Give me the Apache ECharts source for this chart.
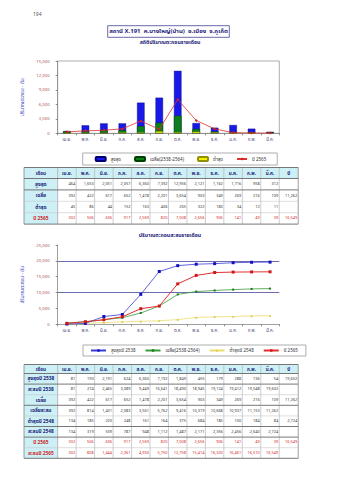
<!DOCTYPE html>
<html><head><meta charset="utf-8">
<script src="https://cdn.jsdelivr.net/npm/echarts@6/dist/echarts.min.js"></script>
<style>html,body{margin:0;padding:0;background:#fff}#c{width:339px;height:480px}</style>
</head><body><div id="c"></div>
<script>
// ---- data ----
const months = ['เม.ย.','พ.ค.','มิ.ย.','ก.ค.','ส.ค.','ก.ย.','ต.ค.','พ.ย.','ธ.ค.','ม.ค.','ก.พ.','มี.ค.'];
const yTicksBar = [0, 3000, 6000, 9000, 12000, 15000];
const yTicksLine = [0, 5000, 10000, 15000, 20000, 25000];
const maxMonthly = [464,1653,2051,2057,6360,7392,12956,2121,1162,1716,958,312];
const avgMonthly = [392,422,617,652,1478,2201,3654,903,349,269,216,109];
const minMonthly = [45,86,44,152,163,406,205,322,183,34,12,11];
const y2565 = [302,506,636,917,2569,820,7008,2656,906,141,49,39];
const max2538 = [81,193,2191,624,6360,7192,1849,455,179,288,136,54];
const cum2538 = [81,274,2465,3089,9449,16641,18490,18945,19124,19412,19548,19602];
const avgCum = [392,814,1431,2083,3561,5762,9416,10319,10668,10937,11153,11262];
const min2548 = [134,185,220,248,161,164,375,684,185,100,184,84];
const cum2548 = [134,319,539,787,948,1112,1487,2171,2356,2456,2640,2724];
const cum2565 = [302,808,1444,2361,4930,5750,12758,15414,16320,16461,16510,16549];
const totals = {max2538:'19,602', avg:'11,262', min2548:'2,724', y2565:'16,549'};

const FONT = "'Noto Sans Thai','Noto Serif Thai','Loma','Garuda','Kinnari','Norasi','Tlwg Typo','DejaVu Sans',sans-serif";
const fmt = v => typeof v === 'string' ? v : v.toLocaleString('en-US');

// ---- tables as graphic ----
const NAVY = '#1c1c78', RED = '#d02828', CYAN = '#cdeff6';
function table(x0, y0, headH, rowH, rows, redRows, thick) {
  const firstW = 33.7, colW = 18.46, lastW = 19;
  const widths = [firstW].concat(Array(12).fill(colW)).concat([lastW]);
  const xs = [x0]; widths.forEach(w => xs.push(xs[xs.length-1] + w));
  const totalW = xs[xs.length-1] - x0;
  const H = headH + rowH * rows.length;
  const els = [];
  els.push({type:'rect', shape:{x:x0, y:y0, width:totalW, height:headH}, style:{fill:CYAN}});
  els.push({type:'rect', shape:{x:x0, y:y0+headH, width:firstW, height:H-headH}, style:{fill:CYAN}});
  xs.forEach((x,i) => els.push({type:'line', shape:{x1:x, y1:y0, x2:x, y2:y0+H}, style:{stroke: (i===0||i===xs.length-1)?'#777':'#b8b8b8', lineWidth: (i===1)?1:0.7}}));
  const ys = [y0, y0+headH];
  rows.forEach((r,i) => ys.push(y0+headH+rowH*(i+1)));
  ys.forEach((y,i) => {
    const strong = i<=1 || i===ys.length-1 || thick.includes(i-1);
    els.push({type:'line', shape:{x1:x0, y1:y, x2:x0+totalW, y2:y}, style:{stroke: strong?'#777':'#c8c8c8', lineWidth: strong?1:0.6}});
  });
  const head = ['เดือน'].concat(months).concat(['ปี']);
  head.forEach((t,i) => els.push({type:'text', x:(xs[i]+xs[i+1])/2, y:y0+headH/2,
    style:{text:t, fill:NAVY, fontSize:4.6, fontWeight:'bold', fontFamily:FONT, textAlign:'center', textVerticalAlign:'middle', align:'center', verticalAlign:'middle'}}));
  rows.forEach((r,ri) => {
    const yc = y0 + headH + rowH*ri + rowH/2;
    const red = redRows.includes(ri);
    r.forEach((t,ci) => {
      if (ci === 0) {
        els.push({type:'text', x:(xs[0]+xs[1])/2, y:yc,
          style:{text:t, fill: red?RED:NAVY, fontSize:4.8, fontWeight:'bold', fontFamily:FONT, textAlign:'center', textVerticalAlign:'middle', align:'center', verticalAlign:'middle'}});
      } else {
        els.push({type:'text', x:xs[ci+1]-1, y:yc,
          style:{text:fmt(t), fill: red?RED:'#333', fontSize:3.9, fontFamily:FONT, textAlign:'right', textVerticalAlign:'middle', align:'right', verticalAlign:'middle'}});
      }
    });
  });
  return els;
}
const t1rows = [
  ['สูงสุด'].concat(maxMonthly).concat(['']),
  ['เฉลี่ย'].concat(avgMonthly).concat([totals.avg]),
  ['ต่ำสุด'].concat(minMonthly).concat(['']),
  ['ปี 2565'].concat(y2565).concat([totals.y2565])
];
const t2rows = [
  ['สูงสุดปี 2538'].concat(max2538).concat([totals.max2538]),
  ['สะสมปี 2538'].concat(cum2538).concat(['']),
  ['เฉลี่ย'].concat(avgMonthly).concat([totals.avg]),
  ['เฉลี่ยสะสม'].concat(avgCum).concat(['']),
  ['ต่ำสุดปี 2548'].concat(min2548).concat([totals.min2548]),
  ['สะสมปี 2548'].concat(cum2548).concat(['']),
  ['ปี 2565'].concat(y2565).concat([totals.y2565]),
  ['สะสมปี 2565'].concat(cum2565).concat([''])
];
const graphics = []
  .concat(table(24, 167.5, 11, 11.4, t1rows, [3], [1]))
  .concat(table(24, 364.5, 9, 10.6, t2rows, [6,7], [0,1,3,5,6]))
  .concat([
    {type:'text', x:33, y:14, style:{text:'194', fill:'#555', fontSize:5, fontFamily:FONT, textVerticalAlign:'middle', verticalAlign:'middle'}},
    {type:'rect', shape:{x:107.7, y:25.7, width:121.6, height:11.6}, style:{fill:'#fff', stroke:'#6a6aa8', lineWidth:1}},
    {type:'text', x:168.5, y:31.5, style:{text:'สถานี X.191  ค.บางใหญ่(บ้าน)  อ.เมือง  จ.ภูเก็ต', fill:NAVY, fontSize:6, fontWeight:'bold', fontFamily:FONT, textAlign:'center', textVerticalAlign:'middle', align:'center', verticalAlign:'middle'}},
    {type:'text', x:170, y:41.5, style:{text:'สถิติปริมาณตะกอนรายเดือน', fill:NAVY, fontSize:5.2, fontWeight:'bold', fontFamily:FONT, textAlign:'center', textVerticalAlign:'middle', align:'center', verticalAlign:'middle'}},
    {type:'text', x:170, y:235, style:{text:'ปริมาณตะกอนสะสมรายเดือน', fill:NAVY, fontSize:5.2, fontWeight:'bold', fontFamily:FONT, textAlign:'center', textVerticalAlign:'middle', align:'center', verticalAlign:'middle'}}
  ]);

const axLabel = {fontSize:4.3, color:'#b05858', fontFamily:FONT};
const xLabel = {fontSize:4.3, color:'#45457a', fontFamily:FONT, margin:4};
const T = 'rgba(0,0,0,0)', G = '#6c6cb0';
const chart = echarts.init(document.getElementById('c'), null, {renderer:'svg'});
chart.setOption({
  animation:false,
  textStyle:{fontFamily:FONT},
  grid:[
    {left:57.7, right:59.7, top:61, height:72.3, show:true, borderColor:'#999', borderWidth:0.8},
    {left:57.7, right:59.7, top:245, height:79.3}
  ],
  xAxis:[
    {type:'category', gridIndex:0, data:months, axisTick:{show:true, length:2, lineStyle:{color:'#888'}}, axisLine:{lineStyle:{color:'#888', width:0.8}}, axisLabel:xLabel},
    {type:'category', gridIndex:1, data:months, axisTick:{show:true, length:2, lineStyle:{color:'#888'}}, axisLine:{lineStyle:{color:'#888', width:0.8}}, axisLabel:xLabel}
  ],
  yAxis:[
    {type:'value', gridIndex:0, min:yTicksBar[0], max:yTicksBar[yTicksBar.length-1], interval:3000,
     name:'ปริมาณตะกอน - ตัน', nameLocation:'middle', nameGap:26, nameRotate:90, nameTextStyle:{fontSize:4.8, color:'#3838c0', fontFamily:FONT},
     axisLine:{show:true, lineStyle:{color:'#888', width:0.8}}, axisTick:{show:true, length:2, lineStyle:{color:'#888'}}, splitLine:{show:false}, axisLabel:axLabel},
    {type:'value', gridIndex:1, min:yTicksLine[0], max:yTicksLine[yTicksLine.length-1], interval:5000,
     name:'ปริมาณตะกอน - ตัน', nameLocation:'middle', nameGap:27, nameRotate:90, nameTextStyle:{fontSize:4.8, color:'#3838c0', fontFamily:FONT},
     axisLine:{show:true, lineStyle:{color:'#888', width:0.8}}, axisTick:{show:true, length:2, lineStyle:{color:'#888'}},
     splitLine:{show:true, lineStyle:{color:[T,T,G,T,G,T], width:1}}, axisLabel:axLabel}
  ],
  legend:[
    {left:82.7, top:153, padding:[3,11,3,12], itemGap:13, itemWidth:10, itemHeight:4,
     borderColor:'#999', borderWidth:0.8, textStyle:{fontSize:4.5, color:'#333', fontFamily:FONT},
     data:['สูงสุด','เฉลี่ย(2538-2564)','ต่ำสุด','ปี 2565']},
    {left:83, top:345, padding:[3,8,3,7], itemGap:9, itemWidth:15, itemHeight:3,
     borderColor:'#999', borderWidth:0.8, textStyle:{fontSize:4.5, color:'#333', fontFamily:FONT},
     data:['สูงสุดปี 2538','เฉลี่ย(2538-2564)\u200b','ต่ำสุดปี 2548','ปี 2565\u200b']}
  ],
  series:[
    {name:'สูงสุด', type:'bar', xAxisIndex:0, yAxisIndex:0, data:maxMonthly, barWidth:7.5, barGap:'-100%',
     itemStyle:{color:'#1818e8', borderColor:'#000070', borderWidth:0.4}},
    {name:'เฉลี่ย(2538-2564)', type:'bar', xAxisIndex:0, yAxisIndex:0, data:avgMonthly, barWidth:7.5, barGap:'-100%',
     itemStyle:{color:'#0a7f1a', borderColor:'#004000', borderWidth:0.4}},
    {name:'ต่ำสุด', type:'bar', xAxisIndex:0, yAxisIndex:0, data:minMonthly, barWidth:7.5, barGap:'-100%',
     itemStyle:{color:'#f4f000', borderColor:'#909000', borderWidth:0.4}},
    {name:'ปี 2565', type:'line', xAxisIndex:0, yAxisIndex:0, data:y2565, symbol:'diamond', symbolSize:3,
     lineStyle:{color:'#e03030', width:0.8}, itemStyle:{color:'#d02020'}},
    {name:'สูงสุดปี 2538', type:'line', xAxisIndex:1, yAxisIndex:1, data:cum2538, symbol:'rect', symbolSize:3,
     lineStyle:{color:'#3a3ad8', width:0.8}, itemStyle:{color:'#1010c0'}, z:5},
    {name:'เฉลี่ย(2538-2564)\u200b', type:'line', xAxisIndex:1, yAxisIndex:1, data:avgCum, symbol:'rect', symbolSize:2,
     lineStyle:{color:'#3a9a3a', width:0.8}, itemStyle:{color:'#1a7a1a'}, z:4},
    {name:'ต่ำสุดปี 2548', type:'line', xAxisIndex:1, yAxisIndex:1, data:cum2548, symbol:'triangle', symbolSize:2.5,
     lineStyle:{color:'#e8dc70', width:0.8}, itemStyle:{color:'#e0cc40'}, z:3},
    {name:'ปี 2565\u200b', type:'line', xAxisIndex:1, yAxisIndex:1, data:cum2565, symbol:'rect', symbolSize:3,
     lineStyle:{color:'#e03030', width:1}, itemStyle:{color:'#d01818'}, z:6}
  ],
  graphic: graphics
});
</script></body></html>
